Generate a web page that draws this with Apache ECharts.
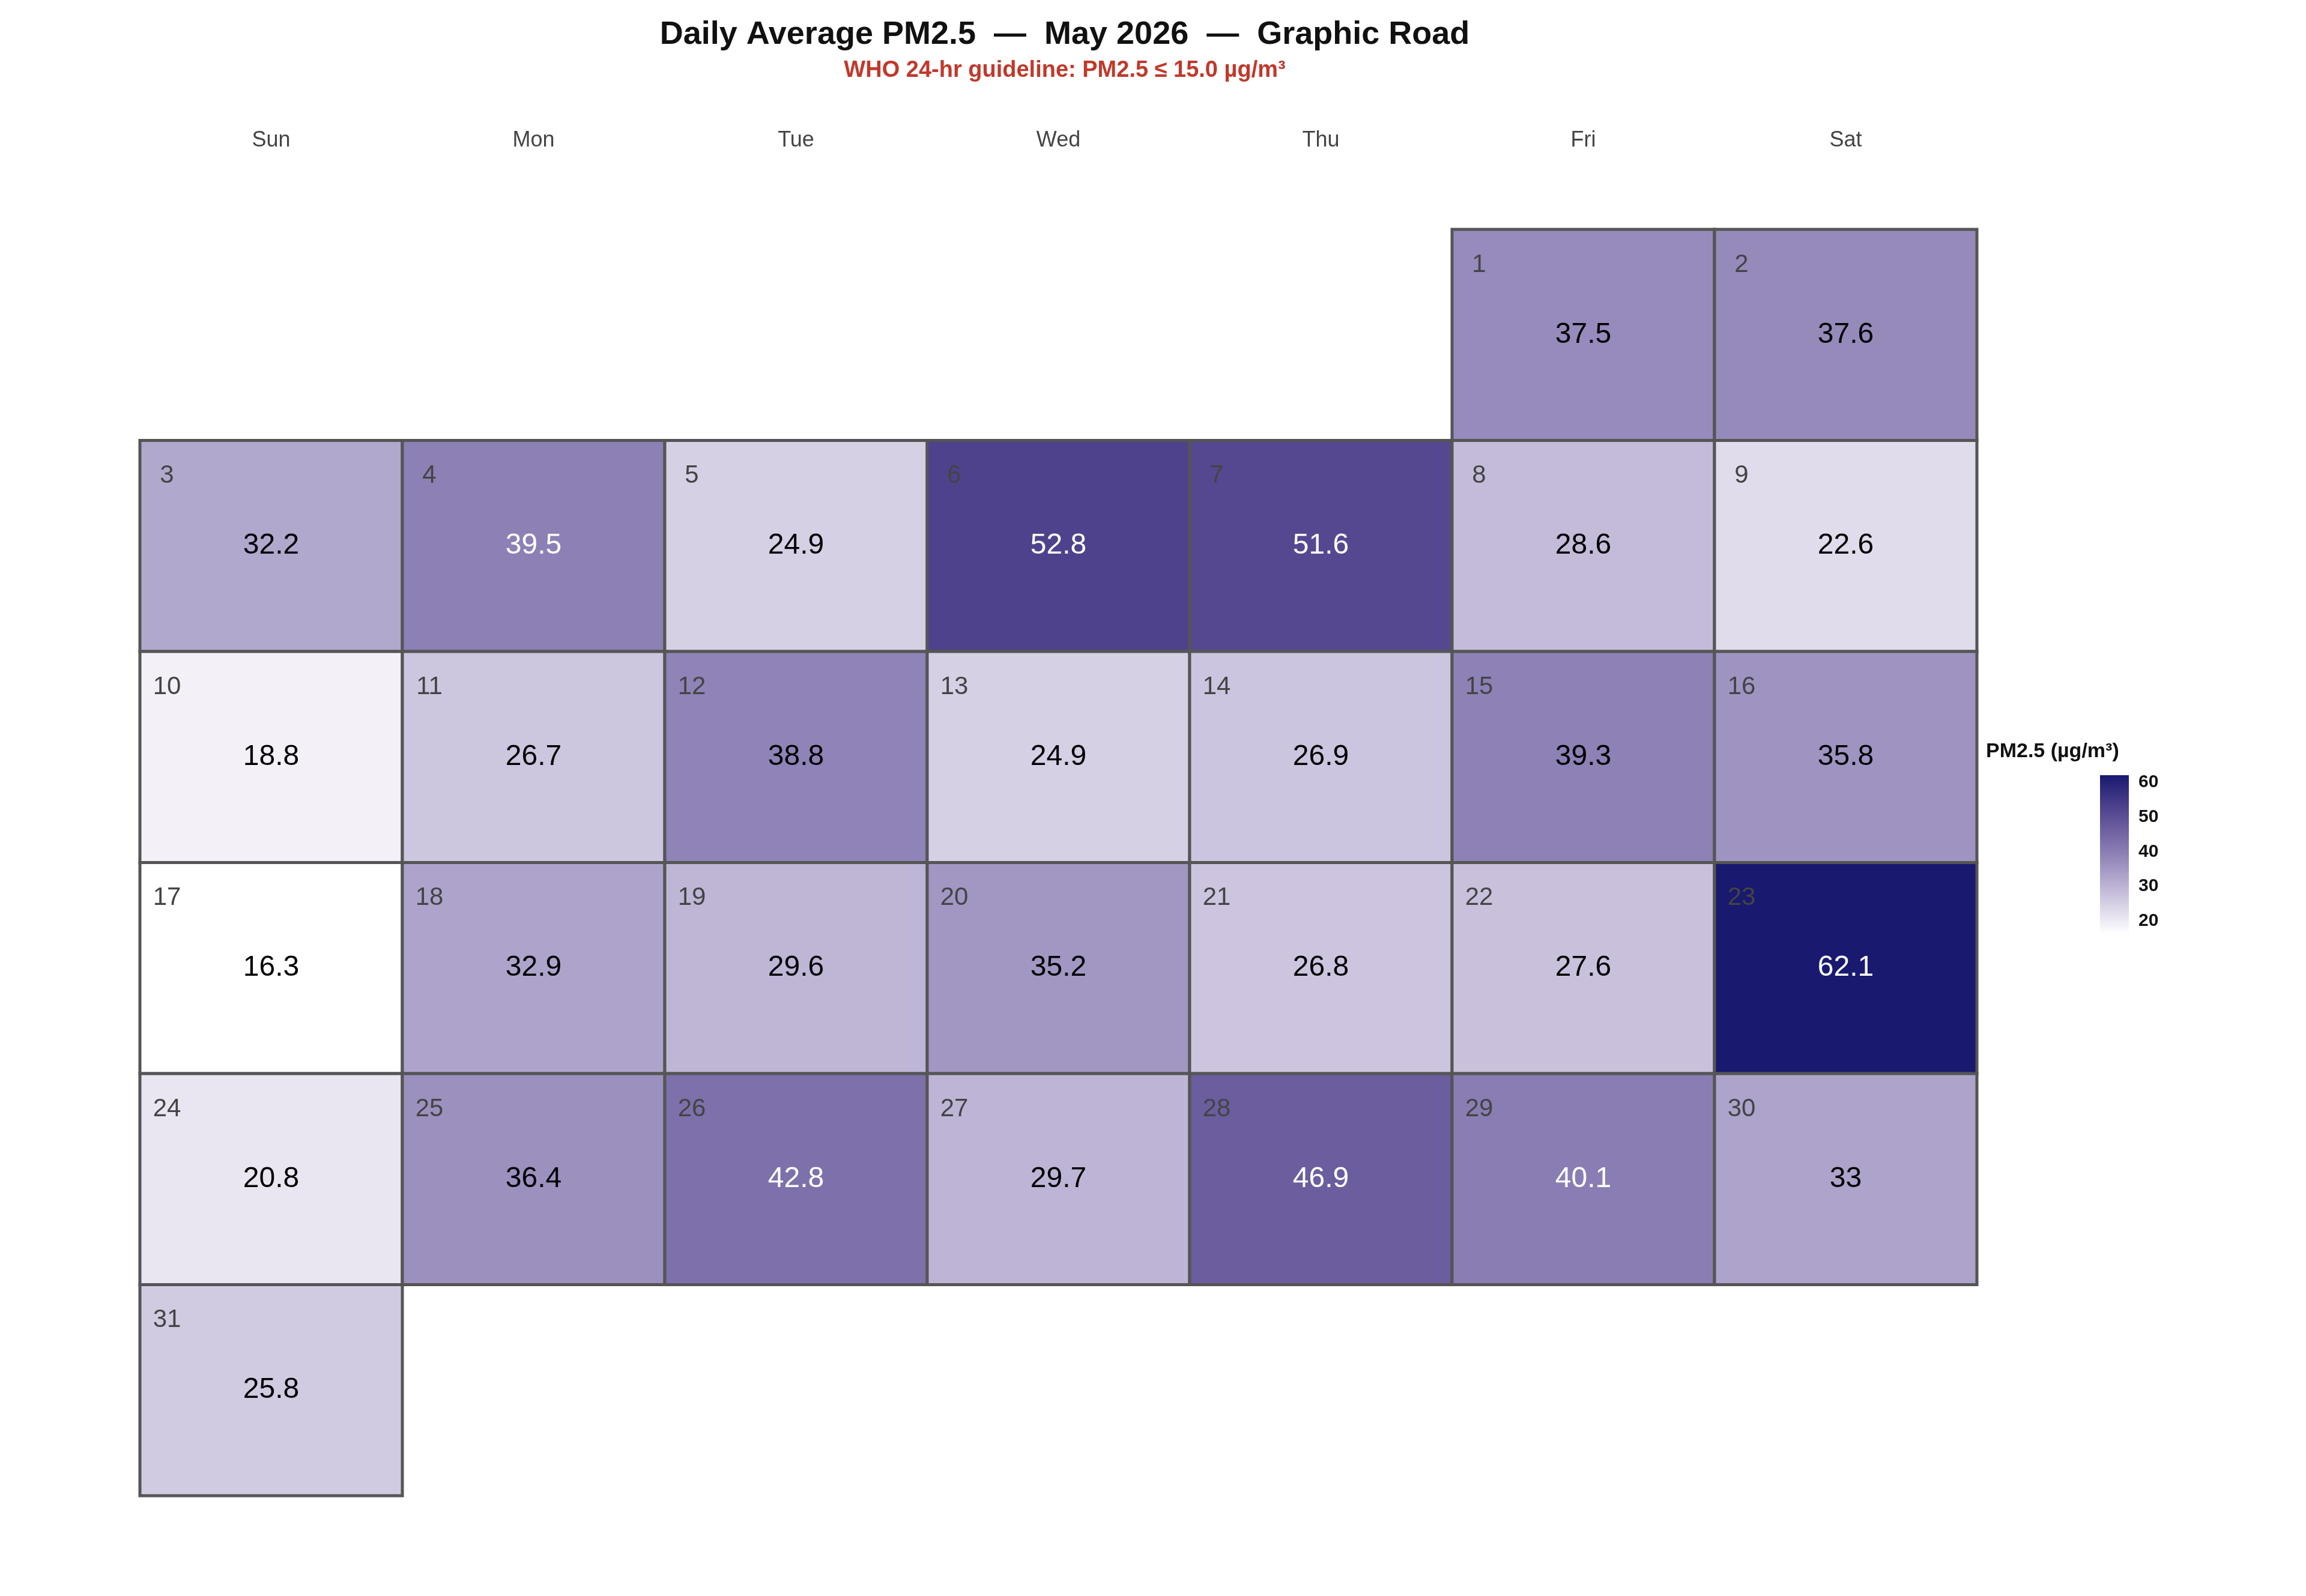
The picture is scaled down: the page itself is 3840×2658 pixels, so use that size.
<!DOCTYPE html>
<html><head><meta charset="utf-8">
<script src="https://cdn.jsdelivr.net/npm/echarts@6/dist/echarts.min.js"></script>
<style>html,body{margin:0;padding:0;background:#fff}#c{width:3840px;height:2658px}</style>
</head><body><div id="c"></div>
<script>
var weekdays = ["Sun", "Mon", "Tue", "Wed", "Thu", "Fri", "Sat"];
var weeks = ["W1", "W2", "W3", "W4", "W5", "W6"];
var dayValues = [37.5, 37.6, 32.2, 39.5, 24.9, 52.8, 51.6, 28.6, 22.6, 18.8,
  26.7, 38.8, 24.9, 26.9, 39.3, 35.8, 16.3, 32.9, 29.6, 35.2,
  26.8, 27.6, 62.1, 20.8, 36.4, 42.8, 29.7, 46.9, 40.1, 33, 25.8];
var firstWeekday = 5; // 1 May 2026 is a Friday
var legendTicks = [20, 30, 40, 50, 60];

var cells = dayValues.map(function (v, i) {
  var pos = firstWeekday + i;
  return [pos % 7, Math.floor(pos / 7), v, i + 1];
});
var vMin = Math.min.apply(null, dayValues), vMax = Math.max.apply(null, dayValues);

var chart = echarts.init(document.getElementById("c"));
var font = "Liberation Sans, Arial, sans-serif";
chart.setOption({
  backgroundColor: "#fff",
  textStyle: { fontFamily: font },
  title: {
    text: "Daily Average PM2.5  —  May 2026  —  Graphic Road",
    subtext: "WHO 24-hr guideline: PM2.5 ≤ 15.0 µg/m³",
    left: 1768, textAlign: "center", top: 26, itemGap: 14,
    textStyle: { fontSize: 54, fontWeight: "bold", color: "#111", fontFamily: font },
    subtextStyle: { fontSize: 38, fontWeight: "bold", color: "#c0392b", fontFamily: font }
  },
  visualMap: {
    type: "continuous", min: vMin, max: vMax, seriesIndex: 0, dimension: 2,
    show: false,
    inRange: { color: ["#ffffff", "#c8c0dc", "#8e81b6", "#5a4c93", "#191970"] }
  },
  grid: [
    { left: 233, right: 548, top: 382, bottom: 167 },
    { left: 3497, width: 48, top: 1291, height: 264 }
  ],
  xAxis: [
    { type: "category", data: weekdays, position: "top", gridIndex: 0,
      axisLine: { show: false }, axisTick: { show: false },
      axisLabel: { fontSize: 36, color: "#444", margin: 130 } },
    { type: "value", gridIndex: 1, show: false, min: 0, max: 1 }
  ],
  yAxis: [
    { type: "category", data: weeks, inverse: true, gridIndex: 0, show: false },
    { type: "value", gridIndex: 1, min: vMin, max: vMax, position: "right",
      name: "PM2.5 (µg/m³)", nameLocation: "end", nameGap: 22,
      nameTextStyle: { fontSize: 34, fontWeight: "bold", color: "#111", align: "left", padding: [0, 0, 0, -190] },
      axisLine: { show: false }, splitLine: { show: false },
      axisTick: { show: true, inside: true, length: 10, lineStyle: { color: "#fff", width: 2 }, customValues: legendTicks },
      axisLabel: { fontSize: 30, fontWeight: "bold", color: "#111", margin: 16, customValues: legendTicks } }
  ],
  series: [
    {
      type: "custom", xAxisIndex: 0, yAxisIndex: 0, data: cells,
      encode: { x: 0, y: 1 },
      renderItem: function (params, api) {
        var c = api.coord([api.value(0), api.value(1)]);
        var s = api.size([1, 1]);
        var x = c[0] - s[0] / 2, y = c[1] - s[1] / 2;
        var v = api.value(2);
        var fill = api.visual("color");
        return {
          type: "group",
          children: [
            { type: "rect", shape: { x: x, y: y, width: s[0], height: s[1] },
              style: { fill: fill, stroke: "#555", lineWidth: 5 } },
            { type: "text", style: { x: x + 45, y: y + 59, text: String(api.value(3)),
              fill: "#444", fontSize: 42, fontFamily: font, align: "center", verticalAlign: "middle" } },
            { type: "text", style: { x: c[0], y: c[1], text: String(v),
              fill: v >= 39.5 ? "#fff" : "#000", fontSize: 48, fontFamily: font, align: "center", verticalAlign: "middle" } }
          ]
        };
      }
    },
    {
      type: "custom", xAxisIndex: 1, yAxisIndex: 1, silent: true,
      data: [[0, vMin, vMax]],
      renderItem: function (params, api) {
        var top = api.coord([0, api.value(2)]);
        var bot = api.coord([1, api.value(1)]);
        return { type: "rect", shape: { x: top[0], y: top[1], width: bot[0] - top[0], height: bot[1] - top[1] },
          style: { fill: new echarts.graphic.LinearGradient(0, 0, 0, 1, [
            { offset: 0, color: "#191970" }, { offset: 0.25, color: "#5a4c93" },
            { offset: 0.5, color: "#8e81b6" }, { offset: 0.75, color: "#c8c0dc" }, { offset: 1, color: "#ffffff" }]) } };
      },
      z: 1
    }
  ]
});
</script></body></html>
